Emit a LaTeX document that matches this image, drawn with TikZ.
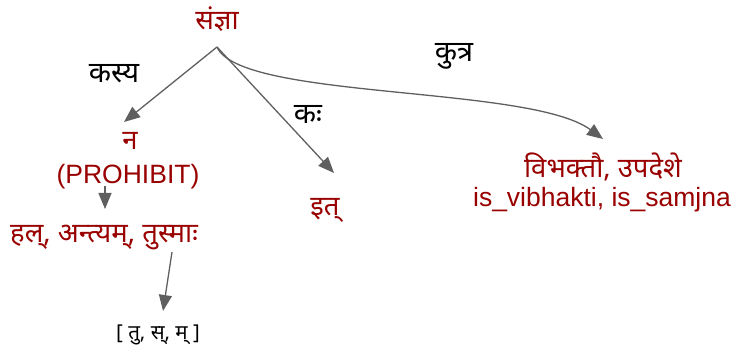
\documentclass[tikz,border=0pt]{standalone}
\usepackage{fontspec}
\setmainfont{Liberation Sans}
\newfontfamily\deva[Script=Devanagari]{Noto Sans}
\usetikzlibrary{arrows.meta}
\definecolor{redtxt}{HTML}{990000}
\definecolor{arrowgray}{HTML}{5F5F5F}
\tikzset{
  redlbl/.style={text=redtxt, inner sep=0pt, anchor=base, font=\deva\fontsize{27.5}{30}\selectfont},
  latlbl/.style={text=redtxt, inner sep=0pt, anchor=base, font=\fontsize{26.5}{30}\selectfont},
  blacklbl/.style={text=black, inner sep=0pt, anchor=base, font=\deva\fontsize{29}{32}\selectfont},
  smalllbl/.style={text=black, inner sep=0pt, anchor=base, font=\deva\fontsize{20.5}{24}\selectfont},
  conn/.style={draw=arrowgray, line width=1.3pt, -{Triangle[length=16pt,width=13pt]}}
}
\begin{document}
\begin{tikzpicture}[x=1pt,y=-1pt]
\useasboundingbox (0,0) rectangle (742,350);
% nodes
\node[redlbl] (samjna) at (217,30) {संज्ञा};
\coordinate (root) at (217,47);
\node[redlbl] (na) at (130,150) {न};
\node[latlbl] (prohibit) at (128,184) {(PROHIBIT)};
\node[redlbl] (hal) at (104,242) {हल्, अन्त्यम्, तुस्माः};
\node[smalllbl] (tusma) at (158,339) {[ तु, स्, म् ]};
\node[redlbl] (it) at (325,215) {इत्};
\node[redlbl] (vibh) at (603,178) {विभक्तौ, उपदेशे};
\node[latlbl] (isv) at (602,207) {is\_vibhakti, is\_samjna};
% edge labels
\node[blacklbl] (kasya) at (114,83) {कस्य};
\node[blacklbl] (kah) at (308,124) {कः};
\node[blacklbl] (kutra) at (454,62) {कुत्र};
% connector end points
\coordinate (tipNa) at (124,122);
\coordinate (tipIt) at (334,173);
\coordinate (tipVibh) at (603,139);
\coordinate (fromProh) at (105,186);
\coordinate (tipHal) at (105,209);
\coordinate (fromHal) at (172,252);
\coordinate (tipTusma) at (163,311);
% connectors
\draw[conn] (root) -- (tipNa);
\draw[conn] (root) -- (tipIt);
\draw[conn] (root) .. controls (240,100) and (530,85) .. (tipVibh);
\draw[conn] (fromProh) -- (tipHal);
\draw[conn] (fromHal) -- (tipTusma);
\end{tikzpicture}
\end{document}
